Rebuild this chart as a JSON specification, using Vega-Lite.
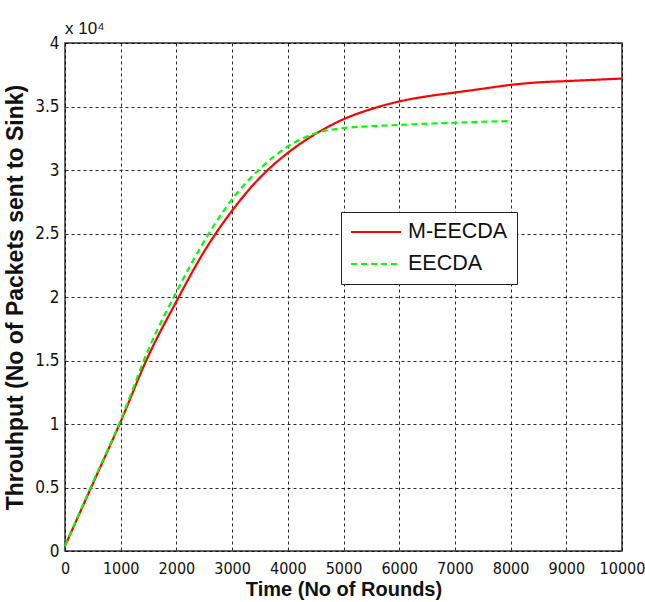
{
  "$schema": "https://vega.github.io/schema/vega-lite/v6.json",
  "width": 557,
  "height": 508,
  "autosize": {"type": "none"},
  "padding": {"left": 65, "top": 43, "right": 23, "bottom": 51},
  "background": "white",
  "title": {
    "text": "x 10⁴",
    "anchor": "start",
    "frame": "group",
    "font": "Liberation Sans",
    "fontSize": 17,
    "fontWeight": "normal",
    "color": "#111",
    "baseline": "alphabetic",
    "offset": -17
  },
  "config": {
    "view": {"stroke": "#333", "strokeWidth": 1.5},
    "axis": {
      "grid": true,
      "gridColor": "#000",
      "gridDash": [3, 3],
      "gridWidth": 1,
      "gridOpacity": 0.85,
      "domain": false,
      "ticks": false,
      "labelOverlap": false,
      "labelFlush": false,
      "labelFont": "Liberation Sans Narrow, DejaVu Sans Condensed",
      "labelFontSize": 17,
      "labelColor": "#111",
      "titleFont": "Liberation Sans",
      "titleFontWeight": "bold",
      "titleColor": "#111"
    }
  },
  "data": {
    "values": [
      {"round": 0, "packets": 400, "series": "M-EECDA"},
      {"round": 500, "packets": 5300, "series": "M-EECDA"},
      {"round": 1000, "packets": 10200, "series": "M-EECDA"},
      {"round": 1500, "packets": 15400, "series": "M-EECDA"},
      {"round": 2000, "packets": 19650, "series": "M-EECDA"},
      {"round": 2500, "packets": 23600, "series": "M-EECDA"},
      {"round": 3000, "packets": 26800, "series": "M-EECDA"},
      {"round": 3500, "packets": 29400, "series": "M-EECDA"},
      {"round": 4000, "packets": 31350, "series": "M-EECDA"},
      {"round": 4500, "packets": 32850, "series": "M-EECDA"},
      {"round": 5000, "packets": 34000, "series": "M-EECDA"},
      {"round": 5500, "packets": 34800, "series": "M-EECDA"},
      {"round": 6000, "packets": 35400, "series": "M-EECDA"},
      {"round": 6500, "packets": 35800, "series": "M-EECDA"},
      {"round": 7000, "packets": 36100, "series": "M-EECDA"},
      {"round": 7500, "packets": 36400, "series": "M-EECDA"},
      {"round": 8000, "packets": 36700, "series": "M-EECDA"},
      {"round": 8500, "packets": 36900, "series": "M-EECDA"},
      {"round": 9000, "packets": 37000, "series": "M-EECDA"},
      {"round": 9500, "packets": 37100, "series": "M-EECDA"},
      {"round": 10000, "packets": 37200, "series": "M-EECDA"},
      {"round": 0, "packets": 400, "series": "EECDA"},
      {"round": 500, "packets": 5400, "series": "EECDA"},
      {"round": 1000, "packets": 10300, "series": "EECDA"},
      {"round": 1500, "packets": 15900, "series": "EECDA"},
      {"round": 2000, "packets": 20400, "series": "EECDA"},
      {"round": 2500, "packets": 24400, "series": "EECDA"},
      {"round": 3000, "packets": 27700, "series": "EECDA"},
      {"round": 3500, "packets": 30100, "series": "EECDA"},
      {"round": 4000, "packets": 31850, "series": "EECDA"},
      {"round": 4500, "packets": 32900, "series": "EECDA"},
      {"round": 5000, "packets": 33300, "series": "EECDA"},
      {"round": 5500, "packets": 33450, "series": "EECDA"},
      {"round": 6000, "packets": 33550, "series": "EECDA"},
      {"round": 6500, "packets": 33650, "series": "EECDA"},
      {"round": 7000, "packets": 33720, "series": "EECDA"},
      {"round": 7500, "packets": 33800, "series": "EECDA"},
      {"round": 8000, "packets": 33850, "series": "EECDA"}
    ]
  },
  "mark": {"type": "line", "strokeWidth": 2.2, "interpolate": "monotone"},
  "encoding": {
    "x": {
      "field": "round",
      "type": "quantitative",
      "scale": {"domain": [0, 10000], "nice": false},
      "axis": {
        "values": [0, 1000, 2000, 3000, 4000, 5000, 6000, 7000, 8000, 9000, 10000],
        "format": "d",
        "labelFontSize": 16,
        "labelPadding": 9,
        "title": "Time (No of Rounds)",
        "titleFontSize": 20,
        "titlePadding": 3
      }
    },
    "y": {
      "field": "packets",
      "type": "quantitative",
      "scale": {"domain": [0, 40000], "nice": false},
      "axis": {
        "values": [0, 5000, 10000, 15000, 20000, 25000, 30000, 35000, 40000],
        "labelExpr": "datum.value / 10000",
        "labelPadding": 6,
        "title": "Throuhput (No of Packets sent to Sink)",
        "titleFontSize": 23,
        "titlePadding": 7
      }
    },
    "color": {
      "field": "series",
      "type": "nominal",
      "scale": {"domain": ["M-EECDA", "EECDA"], "range": ["#ff0000", "#00ff00"]},
      "legend": {
        "title": null,
        "orient": "none",
        "legendX": 276,
        "legendY": 169,
        "strokeColor": "#222",
        "fillColor": "#fff",
        "padding": 9,
        "symbolType": "M-1,0H4",
        "symbolSize": 400,
        "symbolStrokeWidth": 2,
        "labelFont": "Liberation Sans",
        "labelFontSize": 21.5,
        "labelColor": "#111",
        "labelOffset": 36,
        "rowPadding": 10
      }
    },
    "strokeDash": {
      "field": "series",
      "type": "nominal",
      "scale": {"domain": ["M-EECDA", "EECDA"], "range": [[1, 0], [6, 4]]}
    }
  }
}
